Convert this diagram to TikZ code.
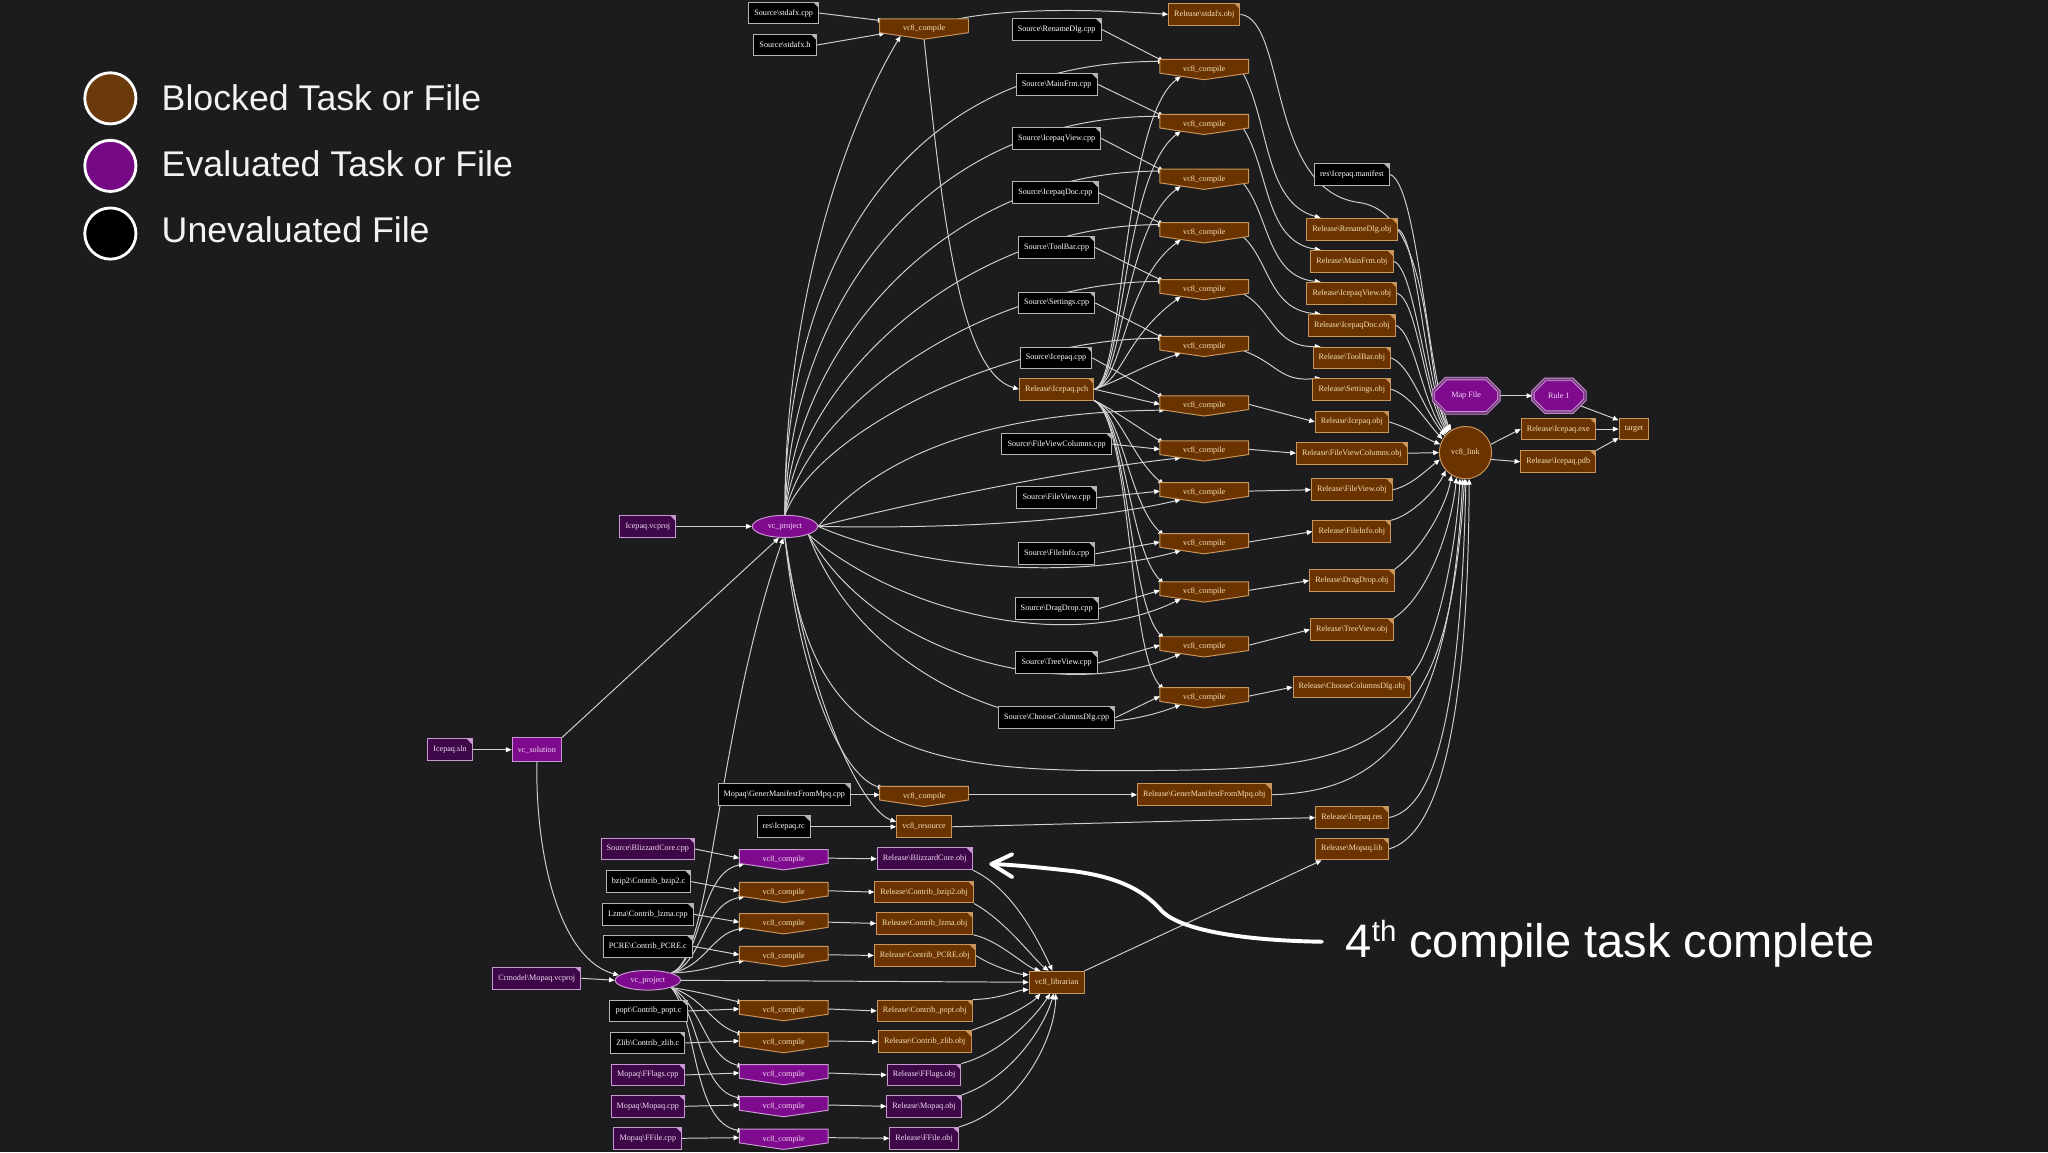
\documentclass[tikz,border=0pt]{standalone}
\usepackage{fontspec}
\newfontfamily\gfont{Liberation Serif}
\newfontfamily\lsans{Liberation Sans}
\usetikzlibrary{arrows.meta,shapes.geometric,shapes.misc}
\newcommand\BSL{\textbackslash}
\definecolor{bgc}{HTML}{1C1B1E}
\definecolor{brf}{HTML}{6B3300}
\definecolor{brl}{HTML}{C8965A}
\definecolor{brt}{HTML}{F5E0B8}
\definecolor{puf}{HTML}{7E0A8E}
\definecolor{pfile}{HTML}{3E0848}
\definecolor{pul}{HTML}{C898D0}
\definecolor{put}{HTML}{F2D8F2}
\definecolor{bkl}{HTML}{B4B4B4}
\definecolor{edgec}{HTML}{CFCFCF}
\definecolor{lgb}{HTML}{6A3A0C}
\definecolor{lgp}{HTML}{760A84}
\pgfdeclarelayer{back}\pgfdeclarelayer{edges}\pgfsetlayers{back,edges,main}
\newcommand\cmp[4]{%
 \filldraw[poly#4] ({#2-34},{#3-5.5}) -- ({#2+34},{#3-5.5}) -- ({#2+34},{#3+5}) -- (#2,{#3+10}) -- ({#2-34},{#3+5}) -- cycle;
 \node[ctxt#4] (#1) at (#2,{#3+2.2}) {vc8\_compile};
 \coordinate (#1-tl) at ({#2-31},{#3-4});
 \coordinate (#1-tr) at ({#2+26},{#3-5.5});
 \coordinate (#1-l) at ({#2-34},{#3+1});
 \coordinate (#1-lb) at ({#2-30},{#3+5.5});
 \coordinate (#1-bl) at ({#2-18},{#3+7.5});
 \coordinate (#1-r) at ({#2+34},{#3+1});
 \coordinate (#1-br) at ({#2+30},{#3+5.5});
 \coordinate (#1-b) at (#2,{#3+10});
}
\begin{document}
\begin{tikzpicture}[x=0.6pt,y=-0.6pt,
 gtxt/.style={font=\gfont\fontsize{3.75}{4.2}\selectfont},
 fold/.style={path picture={\fill[#1] ([xshift=-2.6pt]path picture bounding box.north east) -- (path picture bounding box.north east) -- ([yshift=-2.6pt]path picture bounding box.north east) -- cycle;}},
 filebase/.style={gtxt, rectangle, line width=0.45pt, minimum height=10pt, inner xsep=2.6pt, inner ysep=0.5pt},
 fileK/.style={filebase, fill=black, draw=bkl, text=white, fold=bkl},
 fileB/.style={filebase, fill=brf, draw=brl, text=brt, fold=brl},
 fileP/.style={filebase, fill=pfile, draw=pul, text=put, fold=pul},
 taskB/.style={filebase, fill=brf, draw=brl, text=brt},
 taskP/.style={filebase, fill=puf, draw=pul, text=put},
 polyB/.style={fill=brf, draw=brl, line width=0.45pt},
 polyP/.style={fill=puf, draw=pul, line width=0.45pt},
 ctxtB/.style={gtxt, text=brt, inner sep=0pt, minimum width=40.8pt, minimum height=5pt},
 ctxtP/.style={gtxt, text=put, inner sep=0pt, minimum width=40.8pt, minimum height=5pt},
 ellP/.style={gtxt, ellipse, fill=puf, draw=pul, text=put, line width=0.45pt, inner sep=0pt, minimum width=30pt, minimum height=10.2pt},
 octP/.style={gtxt, chamfered rectangle, fill=puf, draw=pul, double=puf!55!gray, double distance=0.8pt, line width=0.4pt, text=put, minimum height=12pt, inner xsep=3pt},
 edge/.style={draw=edgec, line width=0.45pt, -{Triangle[length=2.6pt,width=2.2pt,color=white]}},
 legc/.style={circle, draw=white, line width=1.3pt, minimum size=23.5pt, inner sep=0pt},
 legt/.style={font=\lsans\fontsize{16.4}{19}\selectfont, text=white!95!black, inner sep=0pt}]
\begin{pgfonlayer}{back}
\fill[bgc] (0,0) rectangle (1568,882);
\end{pgfonlayer}
\useasboundingbox (0,0) rectangle (1568,882);

% legend
\node[legc, fill=lgb] (lg1) at (84.5,75.3) {};
\node[legt, anchor=base west] (lt1) at (123.5,84.7) {Blocked Task or File};
\node[legc, fill=lgp] (lg2) at (84.5,127) {};
\node[legt, anchor=base west] (lt2) at (123.5,135.3) {Evaluated Task or File};
\node[legc, fill=black] (lg3) at (84.5,178.8) {};
\node[legt, anchor=base west] (lt3) at (123.5,186) {Unevaluated File};

% top cluster
\node[fileK] (sA) at (600,10) {Source\BSL stdafx.cpp};
\node[fileK] (sH) at (601,34.5) {Source\BSL stdafx.h};
\cmp{c0}{707.5}{20}{B}
\node[fileB] (oStd) at (922,11) {Release\BSL stdafx.obj};

\node[fileK] (s1) at (809,22.5) {Source\BSL RenameDlg.cpp};
\cmp{c1}{922}{51}{B}
\node[fileK] (s2) at (809,64.5) {Source\BSL MainFrm.cpp};
\cmp{c2}{922}{93}{B}
\node[fileK] (s3) at (809,106) {Source\BSL IcepaqView.cpp};
\cmp{c3}{922}{135}{B}
\node[fileK] (s4) at (808,147.5) {Source\BSL IcepaqDoc.cpp};
\cmp{c4}{922}{176}{B}
\node[fileK] (s5) at (809,189.5) {Source\BSL ToolBar.cpp};
\cmp{c5}{922}{219.5}{B}
\node[fileK] (s6) at (809,232) {Source\BSL Settings.cpp};
\cmp{c6}{922}{263}{B}
\node[fileK] (s7) at (808.5,274) {Source\BSL Icepaq.cpp};
\cmp{c7}{922}{308.5}{B}
\node[fileB] (pch) at (809,298) {Release\BSL Icepaq.pch};
\node[fileK] (s8) at (809,340) {Source\BSL FileViewColumns.cpp};
\cmp{c8}{922}{343}{B}
\node[fileK] (s9) at (809,381) {Source\BSL FileView.cpp};
\cmp{c9}{922}{375}{B}
\node[fileK] (s10) at (809,424) {Source\BSL FileInfo.cpp};
\cmp{c10}{922}{414}{B}
\node[fileK] (s11) at (809,466) {Source\BSL DragDrop.cpp};
\cmp{c11}{922}{451}{B}
\node[fileK] (s12) at (809,507.5) {Source\BSL TreeView.cpp};
\cmp{c12}{922}{493}{B}
\node[fileK] (s13) at (809,549.5) {Source\BSL ChooseColumnsDlg.cpp};
\cmp{c13}{922}{532}{B}

\node[fileK] (man) at (1035,133.5) {res\BSL Icepaq.manifest};
\node[fileB] (o1) at (1035,175.5) {Release\BSL RenameDlg.obj};
\node[fileB] (o2) at (1035,200) {Release\BSL MainFrm.obj};
\node[fileB] (o3) at (1035,224.5) {Release\BSL IcepaqView.obj};
\node[fileB] (o4) at (1035,249) {Release\BSL IcepaqDoc.obj};
\node[fileB] (o5) at (1035,274) {Release\BSL ToolBar.obj};
\node[fileB] (o6) at (1035,298) {Release\BSL Settings.obj};
\node[fileB] (o7) at (1035,323) {Release\BSL Icepaq.obj};
\node[fileB] (o8) at (1035,347) {Release\BSL FileViewColumns.obj};
\node[fileB] (o9) at (1035,375) {Release\BSL FileView.obj};
\node[fileB] (o10) at (1035,407) {Release\BSL FileInfo.obj};
\node[fileB] (o11) at (1035,444.5) {Release\BSL DragDrop.obj};
\node[fileB] (o12) at (1035,482) {Release\BSL TreeView.obj};
\node[fileB] (o13) at (1035,526) {Release\BSL ChooseColumnsDlg.obj};

\node[gtxt, circle, fill=brf, draw=brl, text=brt, line width=0.45pt, minimum size=24pt, inner sep=0pt] (link) at (1122,346.5) {vc8\_link};
\node[octP, minimum width=30pt] (map) at (1122.5,303) {Map File};
\node[octP, minimum width=24pt] (rule) at (1193.5,303) {Rule 1};
\node[fileB] (exe) at (1193,328.5) {Release\BSL Icepaq.exe};
\node[fileB] (pdb) at (1193,353.5) {Release\BSL Icepaq.pdb};
\node[taskB] (target) at (1251,328.5) {target};

\node[fileP] (vcproj) at (496,403) {Icepaq.vcproj};
\node[ellP] (vp) at (601,403) {vc\_project};
\node[fileP] (sln) at (344.5,574) {Icepaq.sln};
\node[taskP, minimum height=10.8pt] (vs) at (411,574) {vc\_solution};

\node[fileK] (gmcpp) at (600.5,608.5) {Mopaq\BSL GenerManifestFromMpq.cpp};
\cmp{cgm}{707.5}{607.5}{B}
\node[fileB] (ogm) at (922,608.5) {Release\BSL GenerManifestFromMpq.obj};
\node[fileK] (rc) at (600,633) {res\BSL Icepaq.rc};
\node[taskB] (vres) at (707.5,633) {vc8\_resource};
\node[fileB] (res) at (1035,626) {Release\BSL Icepaq.res};
\node[fileB] (olib) at (1035,650) {Release\BSL Mopaq.lib};

% lower cluster
\node[fileP] (ls1) at (496,650) {Source\BSL BlizzardCore.cpp};
\cmp{lc1}{600}{656}{P}
\node[fileP] (lo1) at (708,657.5) {Release\BSL BlizzardCore.obj};
\node[fileK] (ls2) at (496.5,675) {bzip2\BSL Contrib\_bzip2.c};
\cmp{lc2}{600}{681}{B}
\node[fileB] (lo2) at (707.5,683) {Release\BSL Contrib\_bzip2.obj};
\node[fileK] (ls3) at (496,700) {Lzma\BSL Contrib\_lzma.cpp};
\cmp{lc3}{600}{705}{B}
\node[fileB] (lo3) at (708,707) {Release\BSL Contrib\_lzma.obj};
\node[fileK] (ls4) at (496,724.5) {PCRE\BSL Contrib\_PCRE.c};
\cmp{lc4}{600}{730}{B}
\node[fileB] (lo4) at (708,731.5) {Release\BSL Contrib\_PCRE.obj};
\node[fileP] (mvc) at (411,749) {Crmodel\BSL Mopaq.vcproj};
\node[ellP, minimum height=9pt] (lvp) at (496,750.5) {vc\_project};
\node[taskB] (lib) at (809,752) {vc8\_librarian};
\node[fileK] (ls5) at (496.5,774) {popt\BSL Contrib\_popt.c};
\cmp{lc5}{600}{771.5}{B}
\node[fileB] (lo5) at (708,774) {Release\BSL Contrib\_popt.obj};
\node[fileK] (ls6) at (496,798.5) {Zlib\BSL Contrib\_zlib.c};
\cmp{lc6}{600}{796}{B}
\node[fileB] (lo6) at (708,797.5) {Release\BSL Contrib\_zlib.obj};
\node[fileP] (ls7) at (496,823) {Mopaq\BSL FFlags.cpp};
\cmp{lc7}{600}{820.5}{P}
\node[fileP] (lo7) at (707.5,823) {Release\BSL FFlags.obj};
\node[fileP] (ls8) at (496,847) {Mopaq\BSL Mopaq.cpp};
\cmp{lc8}{600}{845}{P}
\node[fileP] (lo8) at (707.5,847) {Release\BSL Mopaq.obj};
\node[fileP] (ls9) at (496,871.5) {Mopaq\BSL FFile.cpp};
\cmp{lc9}{600}{870}{P}
\node[fileP] (lo9) at (707.5,871.5) {Release\BSL FFile.obj};

\begin{pgfonlayer}{edges}
% stdafx
\draw[edge] (sA.east) -- (c0-tl);
\draw[edge] (sH.east) -- (c0-lb);
\draw[edge] (vp.north) .. controls (600,250) and (640,110) .. (c0-bl);
\draw[edge] (c0-tr) .. controls (780,5) and (850,8) .. (oStd.west);
\draw[edge] (c0-b) .. controls (722,170) and (735,285) .. (pch.west);
% vp to upper compiles
\draw[edge] (vp.north) .. controls (600,220) and (680,47) .. (c1-tl);
\draw[edge] (vp.north) .. controls (604,245) and (700,89) .. (c2-tl);
\draw[edge] (vp.north) .. controls (608,270) and (720,131) .. (c3-tl);
\draw[edge] (vp.north) .. controls (612,290) and (740,172) .. (c4-tl);
\draw[edge] (vp.north) .. controls (618,310) and (755,215.5) .. (c5-tl);
\draw[edge] (vp.north) .. controls (625,330) and (770,259) .. (c6-tl);
% sources
\draw[edge] (s1.east) -- (c1-tl);
\draw[edge] (s2.east) -- (c2-tl);
\draw[edge] (s3.east) -- (c3-tl);
\draw[edge] (s4.east) -- (c4-tl);
\draw[edge] (s5.east) -- (c5-tl);
\draw[edge] (s6.east) -- (c6-tl);
\draw[edge] (s7.east) -- (c7-tl);
\draw[edge] (s8.east) -- (c8-l);
\draw[edge] (s9.east) -- (c9-l);
\draw[edge] (s10.east) -- (c10-l);
\draw[edge] (s11.east) -- (c11-l);
\draw[edge] (s12.east) -- (c12-l);
\draw[edge] (s13.east) -- (c13-l);
% pch
\draw[edge] (pch.east) .. controls (860,292) and (860,91) .. (c1-bl);
\draw[edge] (pch.east) .. controls (860,292) and (860,133) .. (c2-bl);
\draw[edge] (pch.east) .. controls (860,292) and (860,175) .. (c3-bl);
\draw[edge] (pch.east) .. controls (860,292) and (860,216) .. (c4-bl);
\draw[edge] (pch.east) .. controls (860,292) and (860,259.5) .. (c5-bl);
\draw[edge] (pch.east) .. controls (860,290) and (875,280) .. (c6-bl);
\draw[edge] (pch.east) -- (c7-l);
\draw[edge] (pch.south east) .. controls (855,315) and (875,330) .. (c8-tl);
\draw[edge] (pch.south east) .. controls (858,315) and (866,350) .. (c9-tl);
\draw[edge] (pch.south east) .. controls (860,318) and (864,385) .. (c10-tl);
\draw[edge] (pch.south east) .. controls (862,320) and (864,420) .. (c11-tl);
\draw[edge] (pch.south east) .. controls (864,322) and (864,460) .. (c12-tl);
\draw[edge] (pch.south east) .. controls (866,324) and (864,500) .. (c13-tl);
% vp to lower compiles
\draw[edge] (vp.east) .. controls (690,330) and (800,315) .. (c7-lb);
\draw[edge] (vp.east) .. controls (720,380) and (820,360) .. (c8-bl);
\draw[edge] (vp.east) .. controls (720,405) and (830,400) .. (c9-bl);
\draw[edge] (vp.east) .. controls (700,435) and (820,445) .. (c10-bl);
\draw[edge] (vp.south east) .. controls (690,470) and (820,500) .. (c11-bl);
\draw[edge] (vp.south east) .. controls (670,500) and (810,540) .. (c12-bl);
\draw[edge] (vp.south east) .. controls (660,520) and (800,580) .. (c13-bl);
% compile to obj
\draw[edge] (c1-br) .. controls (972,95) and (968,155) .. (o1.160);
\draw[edge] (c2-br) .. controls (972,130) and (968,185) .. (o2.160);
\draw[edge] (c3-br) .. controls (972,165) and (970,212) .. (o3.160);
\draw[edge] (c4-br) .. controls (972,200) and (972,238) .. (o4.160);
\draw[edge] (c5-br) .. controls (975,238) and (975,266) .. (o5.160);
\draw[edge] (c6-br) .. controls (978,278) and (980,293) .. (o6.160);
\draw[edge] (c7-r) -- (o7.west);
\draw[edge] (c8-r) -- (o8.west);
\draw[edge] (c9-r) -- (o9.west);
\draw[edge] (c10-r) -- (o10.west);
\draw[edge] (c11-r) -- (o11.west);
\draw[edge] (c12-r) -- (o12.west);
\draw[edge] (c13-r) -- (o13.west);
% obj to link
\draw[edge] (oStd.east) .. controls (985,15) and (970,145) .. (1040,155) .. controls (1100,162) and (1090,300) .. (link.122);
\draw[edge] (man.east) .. controls (1085,140) and (1092,280) .. (link.125);
\draw[edge] (o1.east) .. controls (1085,180) and (1090,290) .. (link.128);
\draw[edge] (o2.east) .. controls (1083,205) and (1090,295) .. (link.131);
\draw[edge] (o3.east) .. controls (1085,230) and (1090,300) .. (link.134);
\draw[edge] (o4.east) .. controls (1083,255) and (1088,305) .. (link.137);
\draw[edge] (o5.east) .. controls (1080,280) and (1088,310) .. (link.141);
\draw[edge] (o6.east) .. controls (1080,303) and (1090,320) .. (link.150);
\draw[edge] (o7.east) .. controls (1080,328) and (1090,335) .. (link.162);
\draw[edge] (o8.east) -- (link.west);
\draw[edge] (o9.east) .. controls (1080,372) and (1092,360) .. (link.195);
\draw[edge] (o10.north east) .. controls (1080,395) and (1100,375) .. (link.222);
\draw[edge] (o11.north east) .. controls (1090,420) and (1108,385) .. (link.238);
\draw[edge] (o12.north east) .. controls (1095,455) and (1112,400) .. (link.250);
\draw[edge] (o13.north east) .. controls (1100,495) and (1115,420) .. (link.258);
\draw[edge] (ogm.east) .. controls (1060,606) and (1110,560) .. (link.264);
\draw[edge] (res.east) .. controls (1095,620) and (1118,560) .. (link.271);
\draw[edge] (olib.east) .. controls (1100,640) and (1124,560) .. (link.278);
\draw[edge] (vp.south) .. controls (620,560) and (680,590) .. (850,590) .. controls (1050,590) and (1108,585) .. (link.268);
% link outputs
\draw[edge] (link.18) -- (exe.west);
\draw[edge] (link.-15) -- (pdb.west);
\draw[edge] (map.east) -- (rule.west);
\draw[edge] (rule.-25) -- (target.150);
\draw[edge] (exe.east) -- (target.west);
\draw[edge] (pdb.north east) -- (target.210);
% projects
\draw[edge] (vcproj.east) -- (vp.west);
\draw[edge] (sln.east) -- (vs.west);
\draw[edge] (vs.north east) -- (vp.242);
\draw[edge] (vs.south) .. controls (410,660) and (430,735) .. (lvp.170);
\draw[edge] (lvp.north east) .. controls (545,735) and (548,560) .. (vp.262);
\draw[edge] (mvc.east) -- (lvp.west);
\draw[edge] (vp.south) .. controls (612,520) and (645,595) .. (cgm-tl);
\draw[edge] (vp.south) .. controls (620,540) and (660,620) .. (vres.170);
\draw[edge] (gmcpp.east) -- (cgm-l);
\draw[edge] (cgm-r) -- (ogm.west);
\draw[edge] (rc.east) -- (vres.west);
\draw[edge] (vres.east) -- (res.west);
% lower cluster
\draw[edge] (ls1.east) -- (lc1-l);
\draw[edge] (ls2.east) -- (lc2-l);
\draw[edge] (ls3.east) -- (lc3-l);
\draw[edge] (ls4.east) -- (lc4-l);
\draw[edge] (ls5.east) -- (lc5-l);
\draw[edge] (ls6.east) -- (lc6-l);
\draw[edge] (ls7.east) -- (lc7-l);
\draw[edge] (ls8.east) -- (lc8-l);
\draw[edge] (ls9.east) -- (lc9-l);
\draw[edge] (lc1-r) -- (lo1.west);
\draw[edge] (lc2-r) -- (lo2.west);
\draw[edge] (lc3-r) -- (lo3.west);
\draw[edge] (lc4-r) -- (lo4.west);
\draw[edge] (lc5-r) -- (lo5.west);
\draw[edge] (lc6-r) -- (lo6.west);
\draw[edge] (lc7-r) -- (lo7.west);
\draw[edge] (lc8-r) -- (lo8.west);
\draw[edge] (lc9-r) -- (lo9.west);
\draw[edge] (lvp.north east) .. controls (538,735) and (535,668) .. (lc1-lb);
\draw[edge] (lvp.north east) .. controls (538,738) and (538,692) .. (lc2-lb);
\draw[edge] (lvp.north east) .. controls (540,740) and (545,715) .. (lc3-lb);
\draw[edge] (lvp.north east) .. controls (540,744) and (550,738) .. (lc4-lb);
\draw[edge] (lvp.south east) .. controls (540,760) and (555,765) .. (lc5-tl);
\draw[edge] (lvp.south east) .. controls (540,765) and (545,785) .. (lc6-tl);
\draw[edge] (lvp.south east) .. controls (538,770) and (540,810) .. (lc7-tl);
\draw[edge] (lvp.south east) .. controls (536,775) and (535,835) .. (lc8-tl);
\draw[edge] (lvp.south east) .. controls (534,780) and (530,860) .. (lc9-tl);
\draw[edge] (lvp.east) -- (lib.west);
\draw[edge] (lo1.south east) .. controls (775,680) and (795,720) .. (lib.110);
\draw[edge] (lo2.south east) .. controls (770,705) and (792,735) .. (lib.125);
\draw[edge] (lo3.south east) .. controls (765,720) and (785,740) .. (lib.145);
\draw[edge] (lo4.east) .. controls (760,740) and (780,746) .. (lib.165);
\draw[edge] (lo5.north east) .. controls (765,765) and (780,758) .. (lib.195);
\draw[edge] (lo6.north east) .. controls (770,780) and (790,768) .. (lib.215);
\draw[edge] (lo7.north east) .. controls (770,805) and (795,775) .. (lib.240);
\draw[edge] (lo8.north east) .. controls (775,825) and (800,785) .. (lib.255);
\draw[edge] (lo9.north east) .. controls (780,850) and (808,795) .. (lib.265);
\draw[edge] (lib.north east) -- ([xshift=3pt]olib.south west);
\end{pgfonlayer}

% annotation
\node[anchor=base west, inner sep=0pt, font=\lsans\fontsize{21.6}{24}\selectfont, text=white] (note) at (1030,733) {4\raisebox{7.5pt}{\fontsize{13.5}{13.5}\selectfont th} compile task complete};
\coordinate (tip) at (759,661.5);
\draw[white, line width=1.8pt, line cap=round] (1012,721) .. controls (950,720) and (905,712) .. (890,698) .. controls (878,684) and (860,672) .. (822,667) .. controls (795,664) and (775,662) .. (tip);
\draw[white, line width=1.8pt, line cap=round, line join=round] (775,654) -- (tip) -- (775,671.5);
\end{tikzpicture}
\end{document}
